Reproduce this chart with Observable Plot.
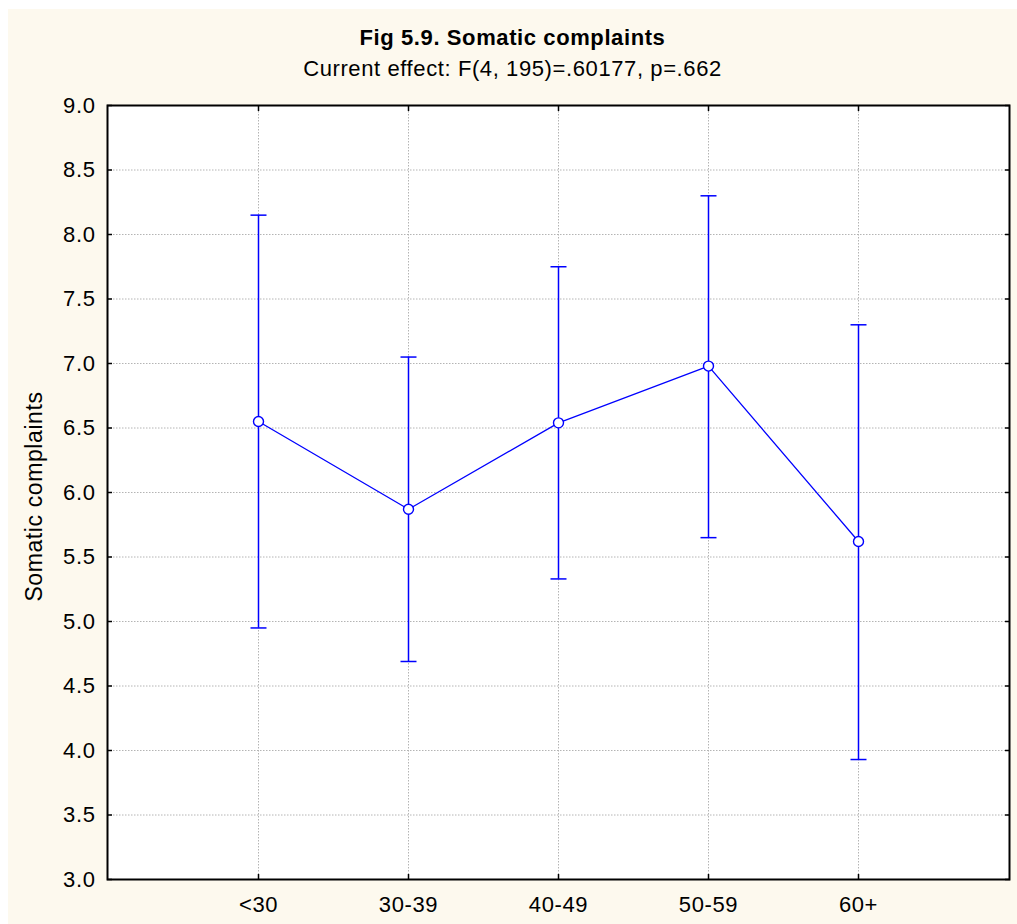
<!DOCTYPE html>
<html>
<head>
<meta charset="utf-8">
<script src="https://cdn.jsdelivr.net/npm/d3@7"></script>
<script src="https://cdn.jsdelivr.net/npm/@observablehq/plot@0.6"></script>
<style>
  html, body { margin: 0; padding: 0; background: #fff; overflow: hidden; }
  #panel { position: absolute; left: 8px; top: 9px; width: 1009px; height: 915px; background: #fdf9ee; }
  .ttl { position: absolute; left: 8px; width: 1009px; text-align: center; font-family: "Liberation Sans", Arial, sans-serif;
         font-size: 22px; letter-spacing: 0.6px; line-height: 22px; color: #000; white-space: nowrap; }
  #title { top: 27px; font-weight: bold; }
  #subtitle { top: 58px; }
  #chart { position: absolute; left: 0; top: 85px; width: 1017px; }
</style>
</head>
<body>
<div id="panel"></div>
<div id="title" class="ttl">Fig 5.9. Somatic complaints</div>
<div id="subtitle" class="ttl">Current effect: F(4, 195)=.60177, p=.662</div>
<div id="chart"></div>
<script>
// Age groups and the mean somatic complaints score with its interval bounds
const groups = ["<30", "30-39", "40-49", "50-59", "60+"];
const means  = [6.55, 5.87, 6.54, 6.98, 5.62];
const lower  = [4.95, 4.69, 5.33, 5.65, 3.93];
const upper  = [8.15, 7.05, 7.75, 8.30, 7.30];
const yTicks = [3.0, 3.5, 4.0, 4.5, 5.0, 5.5, 6.0, 6.5, 7.0, 7.5, 8.0, 8.5, 9.0];
const yLabel = "Somatic complaints";

const rows = groups.map((g, i) => ({group: g, mean: means[i], lo: lower[i], hi: upper[i]}));

const blue = "#0000ff";
const gridStyle = {stroke: "#b4b4b4", strokeOpacity: 1, strokeDasharray: "1.5,1.5", strokeWidth: 1};

// horizontal bar symbol used for the whisker caps (half-width = r)
const capSymbol = {
  draw(context, size) {
    const w = Math.sqrt(size / Math.PI);
    context.moveTo(-w, 0);
    context.lineTo(w, 0);
  }
};

const chart = Plot.plot({
  width: 1017,
  height: 839,
  marginLeft: 107,
  marginRight: 8,
  marginTop: 20,
  marginBottom: 45,
  style: {background: "transparent", fontFamily: "'Liberation Sans', Arial, sans-serif", fontSize: "22px", letterSpacing: "0.6px", color: "#000"},
  x: {type: "point", domain: groups, padding: 1},
  y: {domain: [3, 9]},
  marks: [
    Plot.frame({fill: "white"}),
    Plot.gridY({ticks: yTicks, ...gridStyle}),
    Plot.gridX({...gridStyle}),
    // axes with inward ticks on all four sides
    Plot.axisY({anchor: "left", ticks: yTicks, tickFormat: d3.format(".1f"), tickSize: -5, tickPadding: 17, label: null, strokeWidth: 1.5}),
    Plot.axisY({anchor: "right", ticks: yTicks, tickFormat: () => "", tickSize: -5, label: null, strokeWidth: 1.5}),
    Plot.axisX({anchor: "bottom", tickSize: -5, tickPadding: 22, label: null, strokeWidth: 1.5}),
    Plot.axisX({anchor: "top", tickFormat: () => "", tickSize: -5, label: null, strokeWidth: 1.5}),
    Plot.text([yLabel], {text: d => d, frameAnchor: "left", rotate: -90, dx: -73, dy: 4, textAnchor: "middle", lineAnchor: "middle", fontSize: 23}),
    // interval whiskers and caps
    Plot.ruleX(rows, {x: "group", y1: "lo", y2: "hi", stroke: blue, strokeWidth: 1.5}),
    Plot.dot(rows, {x: "group", y: "hi", symbol: capSymbol, r: 8, fill: "none", stroke: blue, strokeWidth: 1.5}),
    Plot.dot(rows, {x: "group", y: "lo", symbol: capSymbol, r: 8, fill: "none", stroke: blue, strokeWidth: 1.5}),
    // means
    Plot.line(rows, {x: "group", y: "mean", stroke: blue, strokeWidth: 1.3}),
    Plot.dot(rows, {x: "group", y: "mean", r: 5, fill: "white", stroke: blue, strokeWidth: 1.4}),
    Plot.frame({stroke: "black", strokeWidth: 2})
  ]
});

document.getElementById("chart").appendChild(chart);
</script>
</body>
</html>
